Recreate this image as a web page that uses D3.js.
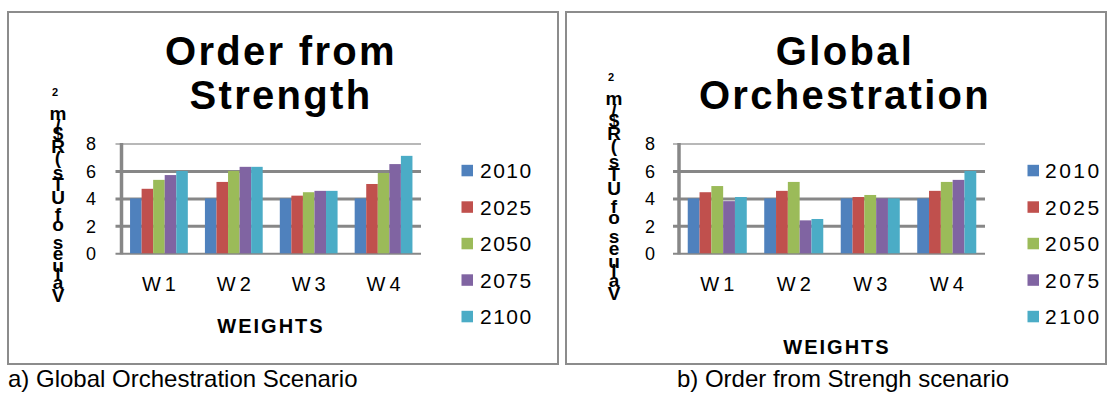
<!DOCTYPE html>
<html>
<head>
<meta charset="utf-8">
<script src="https://cdn.jsdelivr.net/npm/d3@7"></script>
<style>
  html, body { margin: 0; padding: 0; background: #fff; }
  svg { display: block; font-family: Arial, "Liberation Sans", sans-serif; }
</style>
</head>
<body>
<svg id="chart" width="1109" height="393"></svg>
<script>
// ---- data ----
const categories = ["W1", "W2", "W3", "W4"];
const years = ["2010", "2025", "2050", "2075", "2100"];
const yTicks = [0, 2, 4, 6, 8];

// Order from Strength
const ofs2010 = [4.0, 4.0, 4.0, 4.0];
const ofs2025 = [4.7, 5.2, 4.2, 5.05];
const ofs2050 = [5.35, 6.0, 4.45, 5.85];
const ofs2075 = [5.7, 6.3, 4.55, 6.5];
const ofs2100 = [6.0, 6.3, 4.55, 7.1];

// Global Orchestration
const go2010 = [4.0, 4.0, 4.0, 4.0];
const go2025 = [4.45, 4.55, 4.1, 4.55];
const go2050 = [4.9, 5.2, 4.25, 5.2];
const go2075 = [3.8, 2.4, 4.0, 5.35];
const go2100 = [4.1, 2.5, 4.0, 6.0];

const colors = ["#4F81BD", "#C0504D", "#9BBB59", "#8064A2", "#4BACC6"];
const yLabelText = "Values of UTs (R$/m";
const yLabelSup = "2";
const xAxisTitle = "WEIGHTS";

const panels = [
  {
    title: ["Order from", "Strength"],
    series: [ofs2010, ofs2025, ofs2050, ofs2075, ofs2100],
    frame: [8, 12, 550, 352], plot: [121.5, 421],
    titleX: 281, tickX: 91, axisTitleX: 271, axisTitleY: 333,
    legendX: 461.5, legendGap: 18.5, legendLs: 1.5,
    labelX: 58, labelBottom: 295, labelSpan: 182, supY: 92,
    caption: "a) Global Orchestration Scenario", captionX: 8, captionAnchor: "start"
  },
  {
    title: ["Global", "Orchestration"],
    series: [go2010, go2025, go2050, go2075, go2100],
    frame: [566, 12, 540, 352], plot: [679, 985],
    titleX: 845, tickX: 650, axisTitleX: 837, axisTitleY: 354,
    legendX: 1027.5, legendGap: 17.5, legendLs: 2.5,
    labelX: 614, labelBottom: 293, labelSpan: 195, supY: 77,
    caption: "b) Order from Strengh scenario", captionX: 843, captionAnchor: "middle"
  }
];

const svg = d3.select("#chart");
const y = d3.scaleLinear().domain([0, 8]).range([253.3, 143.5]);
const gridColor = "#878787";

// Vertical axis title: each glyph upright, stacked along a bottom-to-top baseline
function stackedLabel(g, p) {
  const fontSize = 19;
  const ctx = document.createElement("canvas").getContext("2d");
  ctx.font = `bold ${fontSize}px Arial, "Liberation Sans", sans-serif`;
  const chars = Array.from(yLabelText);
  const w = chars.map(c => ctx.measureText(c).width);
  let acc = 0;
  const centers = chars.map((c, i) => { const m = acc + w[i] / 2; acc += w[i]; return m; });
  const n = chars.length - 1;
  const ls = (p.labelSpan - (centers[n] - centers[0])) / n;
  chars.forEach((c, i) => {
    if (c === " ") return;
    const off = centers[i] - centers[0] + i * ls;
    g.append("text")
      .attr("x", p.labelX).attr("y", p.labelBottom - off)
      .attr("dy", "0.36em")
      .attr("text-anchor", "middle")
      .attr("font-weight", "bold").attr("font-size", fontSize)
      .text(c);
  });
  g.append("text")
    .attr("x", p.labelX - 3).attr("y", p.supY).attr("dy", "0.36em")
    .attr("text-anchor", "middle")
    .attr("font-weight", "bold").attr("font-size", 11)
    .text(yLabelSup);
}

panels.forEach(p => {
  const g = svg.append("g");
  const [fx, fy, fw, fh] = p.frame;
  g.append("rect")
    .attr("x", fx).attr("y", fy).attr("width", fw).attr("height", fh)
    .attr("fill", "none").attr("stroke", "#8c8c8c").attr("stroke-width", 2);

  const [x0, x1] = p.plot;
  const x = d3.scaleBand().domain(categories).range([x0, x1]);
  const xi = d3.scaleBand().domain(years).range([0, x.bandwidth()]).paddingOuter(0.74);

  // gridlines + tick labels
  const yAxis = d3.axisLeft(y)
    .tickValues(yTicks)
    .tickSize(x1 - x0 + 6)
    .tickPadding(0)
    .tickFormat(d3.format("d"));
  const ga = g.append("g").attr("transform", `translate(${x1},0)`).call(yAxis);
  ga.select(".domain").remove();
  ga.selectAll(".tick line")
    .attr("stroke", d => d === 8 ? "#a0a0a0" : gridColor)
    .attr("stroke-width", d => d === 8 ? 1.5 : (d === 0 ? 2 : 3));
  ga.selectAll(".tick text")
    .attr("x", p.tickX - x1)
    .attr("text-anchor", "middle")
    .attr("dy", "0.36em")
    .attr("font-size", 18)
    .attr("font-family", "Arial, 'Liberation Sans', sans-serif")
    .attr("fill", "#000");

  // bars
  years.forEach((yr, j) => {
    g.append("g").selectAll("rect")
      .data(p.series[j])
      .join("rect")
      .attr("x", (d, i) => x(categories[i]) + xi(yr))
      .attr("y", d => y(d))
      .attr("width", xi.bandwidth())
      .attr("height", d => y(0) - y(d))
      .attr("fill", colors[j]);
  });

  // vertical axis line
  g.append("line")
    .attr("x1", x0).attr("x2", x0)
    .attr("y1", y(8) - 0.5).attr("y2", y(0) + 1)
    .attr("stroke", gridColor).attr("stroke-width", 3.5);

  // category labels
  const xAxis = d3.axisBottom(x).tickSize(0).tickPadding(24);
  const gx = g.append("g").attr("transform", `translate(0,${y(0)})`).call(xAxis);
  gx.select(".domain").remove();
  gx.selectAll(".tick text")
    .attr("font-size", 20)
    .attr("font-family", "Arial, 'Liberation Sans', sans-serif")
    .attr("fill", "#000")
    .style("letter-spacing", "4px")
    .attr("dx", "2px");

  // title
  p.title.forEach((line, k) => {
    g.append("text")
      .attr("x", p.titleX).attr("y", 65 + k * 44)
      .attr("text-anchor", "middle")
      .attr("font-weight", "bold").attr("font-size", 40)
      .style("letter-spacing", "2.3px")
      .text(line);
  });

  // x axis title
  g.append("text")
    .attr("x", p.axisTitleX).attr("y", p.axisTitleY)
    .attr("text-anchor", "middle")
    .attr("font-weight", "bold").attr("font-size", 20)
    .style("letter-spacing", "2px")
    .text(xAxisTitle);

  // y axis title
  stackedLabel(g, p);

  // legend
  const lg = g.append("g");
  years.forEach((yr, j) => {
    const base = 178.3 + j * 36.5;
    lg.append("rect")
      .attr("x", p.legendX).attr("y", base - 13.5)
      .attr("width", 11.5).attr("height", 11.5)
      .attr("fill", colors[j]);
    lg.append("text")
      .attr("x", p.legendX + p.legendGap).attr("y", base)
      .attr("font-size", 21)
      .style("letter-spacing", p.legendLs + "px")
      .text(yr);
  });

  // caption below the frame
  svg.append("text")
    .attr("x", p.captionX).attr("y", 387)
    .attr("text-anchor", p.captionAnchor)
    .attr("font-size", 24)
    .text(p.caption);
});
</script>
</body>
</html>
